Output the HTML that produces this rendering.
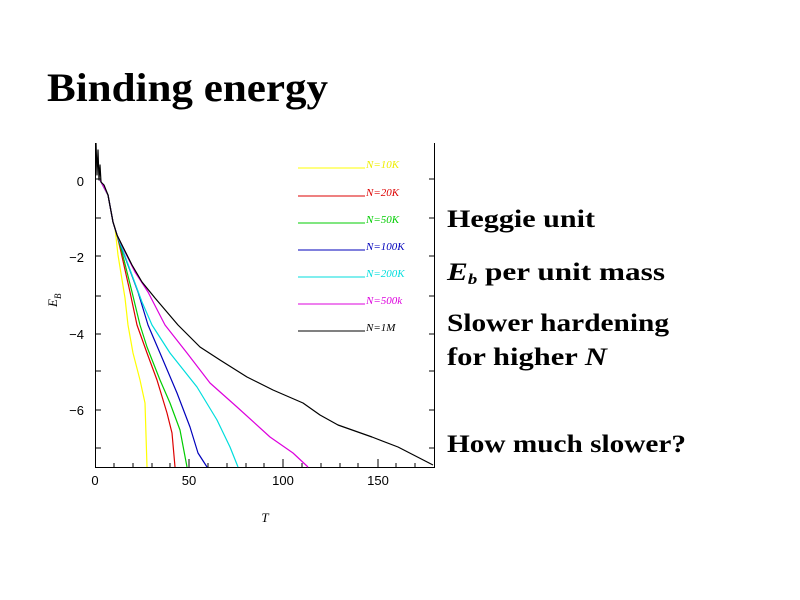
<!DOCTYPE html>
<html><head><meta charset="utf-8"><style>html,body{margin:0;padding:0;background:#fff}svg{display:block}</style></head>
<body>
<svg width="800" height="600" viewBox="0 0 800 600" xmlns="http://www.w3.org/2000/svg">
<rect width="800" height="600" fill="#fff"/>
<text x="47" y="101" font-family="Liberation Serif, serif" font-weight="bold" font-size="40" textLength="281" lengthAdjust="spacingAndGlyphs">Binding energy</text>
<g font-family="Liberation Serif, serif" font-weight="bold" font-size="25">
<text x="447" y="227" textLength="148" lengthAdjust="spacingAndGlyphs">Heggie unit</text>
<text x="447" y="280" textLength="218" lengthAdjust="spacingAndGlyphs"><tspan font-style="italic">E</tspan><tspan font-style="italic" font-size="15" dy="4">b</tspan><tspan dy="-4"> per unit mass</tspan></text>
<text x="447" y="331" textLength="222" lengthAdjust="spacingAndGlyphs">Slower hardening</text>
<text x="447" y="365" textLength="160" lengthAdjust="spacingAndGlyphs">for higher <tspan font-style="italic">N</tspan></text>
<text x="447" y="452" textLength="239" lengthAdjust="spacingAndGlyphs">How much slower?</text>
</g>
<g stroke="#000" stroke-width="1" fill="none">
<path d="M95.5 143V467.5H434.5V143"/>
<path d="M96 179h5M96 218h5M96 256h5M96 296h5M96 334h5M96 371h5M96 410h5M96 448h5"/>
<path d="M434 179h-5M434 218h-5M434 256h-5M434 296h-5M434 334h-5M434 371h-5M434 410h-5M434 448h-5"/>
<path d="M114 467v-4M133 467v-4M152 467v-4M170 467v-4M189 467v-8M208 467v-4M227 467v-4M246 467v-4M264 467v-4M283 467v-8M302 467v-4M321 467v-4M340 467v-4M358 467v-4M378 467v-8M396 467v-4M415 467v-4"/>
</g>
<g font-family="Liberation Sans, sans-serif" font-size="13" fill="#000" text-anchor="end">
<text x="84" y="186">0</text><text x="84" y="262">−2</text><text x="84" y="339">−4</text><text x="84" y="415">−6</text>
</g>
<g font-family="Liberation Sans, sans-serif" font-size="13" fill="#000" text-anchor="middle">
<text x="95" y="485">0</text><text x="189" y="485">50</text><text x="283" y="485">100</text><text x="378" y="485">150</text>
</g>
<text x="265" y="522" font-family="Liberation Serif, serif" font-style="italic" font-size="13" text-anchor="middle">T</text>
<text transform="translate(57,307) rotate(-90)" font-family="Liberation Serif, serif" font-style="italic" font-size="13">E<tspan font-size="9" dy="4">B</tspan></text>
<g fill="none" stroke-width="1.2" stroke-linejoin="round">
<path stroke="#ffff00" d="M100 180L108 195L113 222L115 228L118 255L125 298L128 325L133 353L140 380L145 403L147 467"/>
<path stroke="#dd0000" d="M100 180L108 195L113 222L117 235L121 252L130 292L137 325L147 353L157 380L167 413L172 433L175 467"/>
<path stroke="#00cc00" d="M100 180L108 195L113 222L117 235L122 252L132 292L140 325L147 347L160 380L170 403L180 430L187 467"/>
<path stroke="#0000bb" d="M100 180L108 195L113 222L118 238L128 265L138 292L148 325L160 353L177 393L190 427L198 453L207 467"/>
<path stroke="#00dddd" d="M100 180L108 195L113 222L117 235L122 248L132 275L142 302L152 325L170 353L197 387L217 420L230 447L238 467"/>
<path stroke="#dd00dd" d="M100 180L108 195L113 222L117 235L125 252L135 272L148 292L165 325L187 353L210 383L237 407L270 437L293 453L308 467"/>
<path stroke="#000" d="M96 143L97 175L98 150L99 180L100 165L101 182L104 185L108 195L113 222L117 235L122 245L132 265L142 282L155 298L178 325L200 347L220 360L247 377L273 390L303 403L320 415L338 425L372 437L398 447L433 465"/>
</g>
<g stroke-width="1">
<path stroke="#ffff00" d="M298 168h67"/><path stroke="#dd0000" d="M298 196h67"/><path stroke="#00cc00" d="M298 223h67"/><path stroke="#0000bb" d="M298 250h67"/><path stroke="#00dddd" d="M298 277h67"/><path stroke="#dd00dd" d="M298 304h67"/><path stroke="#000" d="M298 331h67"/>
</g>
<g font-family="Liberation Serif, serif" font-style="italic" font-size="11">
<text x="366" y="168" fill="#eeee00">N=10K</text>
<text x="366" y="196" fill="#dd0000">N=20K</text>
<text x="366" y="223" fill="#00cc00">N=50K</text>
<text x="366" y="250" fill="#0000bb">N=100K</text>
<text x="366" y="277" fill="#00dddd">N=200K</text>
<text x="366" y="304" fill="#dd00dd">N=500k</text>
<text x="366" y="331" fill="#000">N=1M</text>
</g>
</svg>
</body></html>
